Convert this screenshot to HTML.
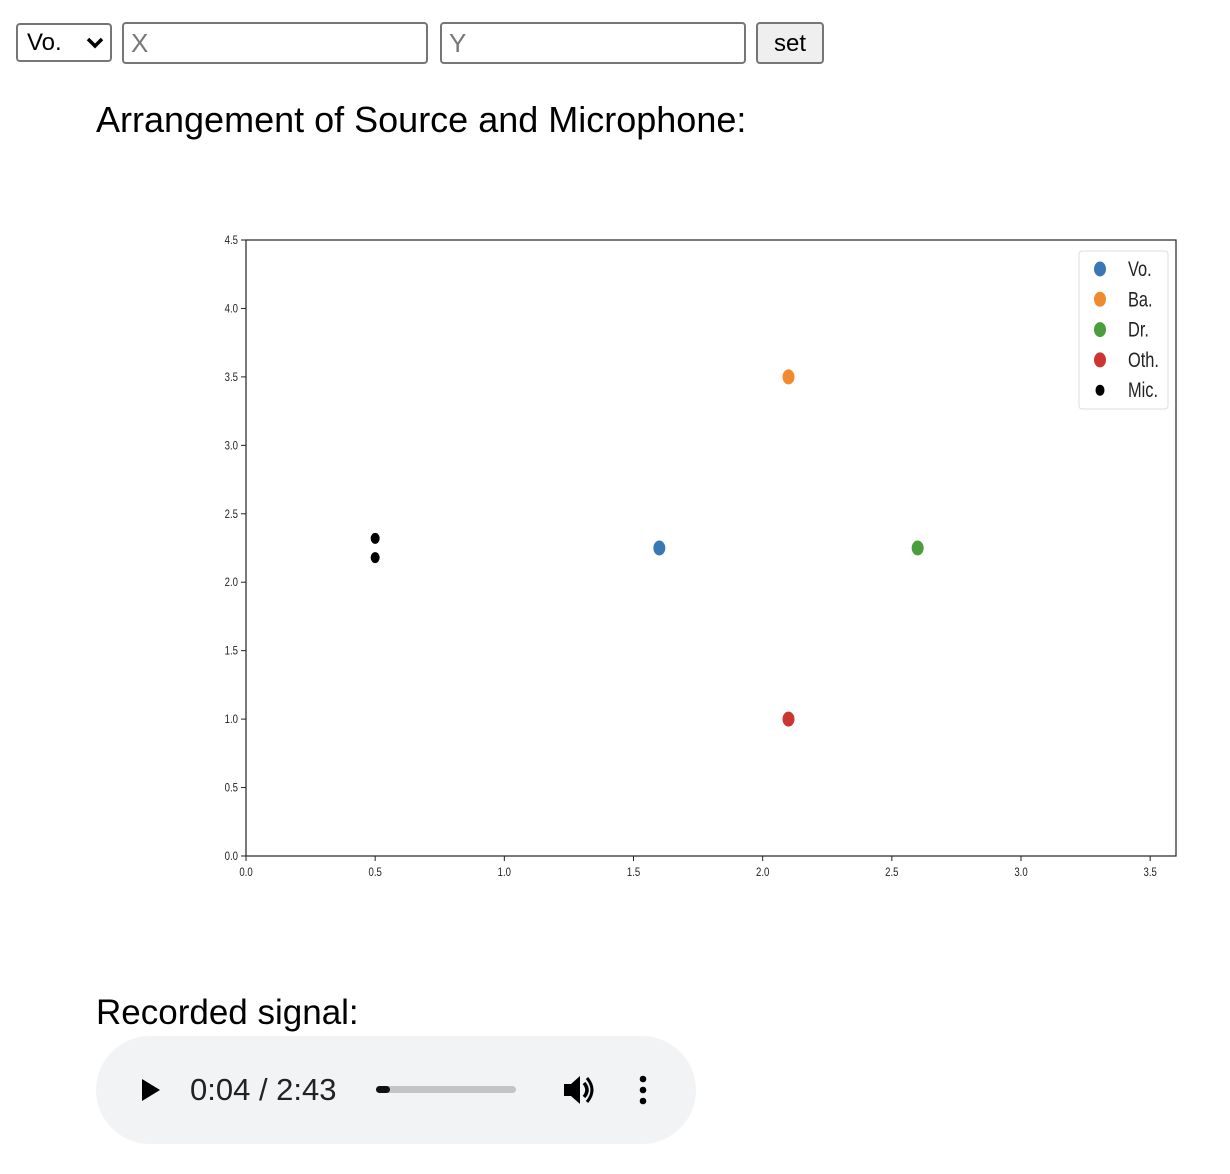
<!DOCTYPE html>
<html><head><meta charset="utf-8"><style>
body{margin:0;width:1230px;height:1174px;background:#fff;font-family:"Liberation Sans",sans-serif;position:relative;overflow:hidden}
.abs{position:absolute}
.box{border:2px solid #767676;border-radius:4px;background:#fff;box-sizing:border-box}
</style></head><body>
<div class="abs box" style="left:16px;top:23px;width:96px;height:39px;font-size:24px;padding:4px 0 0 9px;">Vo.<svg style="position:absolute;left:68px;top:12px" width="18" height="12"><path d="M2 2 L9 9 L16 2" stroke="#000" stroke-width="3.5" fill="none"/></svg></div>
<div class="abs box" style="left:122px;top:22px;width:306px;height:42px;font-size:26px;color:#777;padding:4px 0 0 7px;">X</div>
<div class="abs box" style="left:440px;top:22px;width:306px;height:42px;font-size:26px;color:#777;padding:4px 0 0 7px;">Y</div>
<div class="abs box" style="left:756px;top:22px;width:68px;height:42px;background:#efefef;font-size:24px;text-align:center;padding-top:6px;">set</div>
<div class="abs" style="left:96px;top:99px;font-size:36px;">Arrangement of Source and Microphone:</div>
<svg class="abs" style="left:0;top:0" width="1230" height="960" id="chart"></svg>
<div class="abs" style="left:96px;top:993px;font-size:35px;">Recorded signal:</div>
<div class="abs" style="left:96px;top:1036px;width:600px;height:108px;border-radius:54px;background:#f1f3f4;">
<svg class="abs" style="left:44px;top:41px" width="22" height="26"><path d="M2 2 L20 13 L2 24Z" fill="#000"/></svg>
<div class="abs" style="left:94px;top:36px;font-size:31px;color:#222">0:04 / 2:43</div>
<div class="abs" style="left:280px;top:50px;width:140px;height:7px;border-radius:4px;background:#c4c4c4"><div style="width:14px;height:7px;background:#111;border-radius:4px"></div></div>
<svg class="abs" style="left:466px;top:38px" width="36" height="32"><path d="M2 10 H9 L18 2 V30 L9 22 H2Z" fill="#000"/><path d="M22 9 Q28 16 22 23" stroke="#000" stroke-width="3.5" fill="none"/><path d="M25 4 Q35 16 25 28" stroke="#000" stroke-width="3" fill="none"/></svg>
<svg class="abs" style="left:542px;top:38px" width="10" height="32"><circle cx="5" cy="5" r="3.3"/><circle cx="5" cy="16" r="3.3"/><circle cx="5" cy="27" r="3.3"/></svg>
</div>
<script>
const xTicks=[0.0,0.5,1.0,1.5,2.0,2.5,3.0,3.5];
const yTicks=[0.0,0.5,1.0,1.5,2.0,2.5,3.0,3.5,4.0,4.5];
const seriesNames=["Vo.","Ba.","Dr.","Oth.","Mic."];
const seriesColors=["#3a78b5","#f08a2e","#4a9e3c","#cc3532","#000000"];
const seriesX=[[1.6],[2.1],[2.6],[2.1],[0.5,0.5]];
const seriesY=[[2.25],[3.5],[2.25],[1.0],[2.32,2.18]];
const NS="http://www.w3.org/2000/svg";
const svg=document.getElementById('chart');
const L=246,R=1176,T=240,B=856,XMAX=3.6,YMAX=4.5;
const sx=v=>L+v/XMAX*(R-L), sy=v=>B-v/YMAX*(B-T);
function mk(tag,attrs,parent){const e=document.createElementNS(NS,tag);for(const k in attrs)e.setAttribute(k,attrs[k]);(parent||svg).appendChild(e);return e;}
const frame=mk('rect',{x:L,y:T,width:R-L,height:B-T,fill:'none',stroke:'#222','stroke-width':1.2});


xTicks.forEach(t=>{
 const x=sx(t);mk('line',{x1:x,x2:x,y1:B,y2:B+5,stroke:'#222'});
 const tx=mk('text',{x:x,y:B+20,'font-size':12,'text-anchor':'middle',fill:'#222',transform:`translate(${x},0) scale(0.8,1) translate(${-x},0)`});
 tx.textContent=t.toFixed(1);
 
 
});
yTicks.forEach(t=>{
 const y=sy(t);mk('line',{x1:L-5,x2:L,y1:y,y2:y,stroke:'#222'});
 const tx=mk('text',{x:L-8,y:y+4,'font-size':12,'text-anchor':'end',fill:'#222',transform:`translate(${L-8},0) scale(0.8,1) translate(${-(L-8)},0)`});
 tx.textContent=t.toFixed(1);
 
 
});
seriesX.forEach((xs,i)=>{
 xs.forEach((xv,j)=>{
  const small=i===4;
  const p=mk('ellipse',{cx:sx(xv),cy:sy(seriesY[i][j]),rx:small?4.5:6,ry:small?5.5:7.5,fill:seriesColors[i]});
  
  
 });
});
const lg=mk('rect',{x:1079,y:251,width:89,height:158,rx:3,fill:'#fff',stroke:'#ddd'});


seriesNames.forEach((n,i)=>{
 const y=269+i*30.3;
 const small=i===4;
 mk('ellipse',{cx:1100,cy:y,rx:small?4.5:6,ry:small?5.5:7.5,fill:seriesColors[i]});
 const tx=mk('text',{x:1128,y:y+7,'font-size':21,fill:'#222',transform:`translate(1128,0) scale(0.78,1) translate(-1128,0)`});
 tx.textContent=n;
 
 
});
</script>
</body></html>
